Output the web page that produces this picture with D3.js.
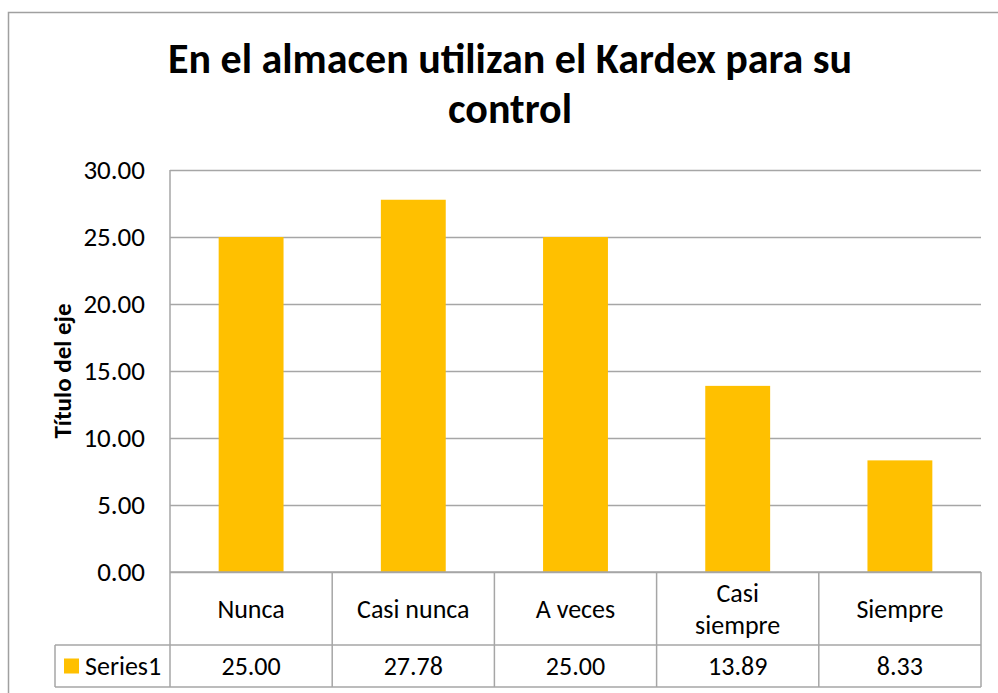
<!DOCTYPE html>
<html lang="es">
<head>
<meta charset="utf-8">
<title>En el almacen utilizan el Kardex para su control</title>
<script src="https://cdn.jsdelivr.net/npm/d3@7"></script>
<style>
  body { margin: 0; background: #fff; }
  svg text { font-family: Carlito, Calibri, Lato, sans-serif; fill: #000; }
  .title { font-size: 42px; font-weight: bold; }
  .ytitle { font-size: 25px; font-weight: bold; }
  .tick text { font-size: 27px; }
  .cell { font-size: 26px; }
  .grid line { stroke: #a6a6a6; stroke-width: 1.5; }
  .grid path { display: none; }
  .tbl { stroke: #a6a6a6; stroke-width: 1.5; }
</style>
</head>
<body>
<div id="chart"></div>
<script>
// data
var titleLines = ["En el almacen utilizan el Kardex para su", "control"];
var yTitle = "Título del eje";
var categories = ["Nunca", "Casi nunca", "A veces", "Casi siempre", "Siempre"];
var categoryLines = [["Nunca"], ["Casi nunca"], ["A veces"], ["Casi", "siempre"], ["Siempre"]];
var seriesName = "Series1";
var values = [25.00, 27.78, 25.00, 13.89, 8.33];
var yTicks = [0, 5, 10, 15, 20, 25, 30];

var W = 998, H = 693;
var plot = {left: 170, right: 981, top: 170, bottom: 572};
var headerBottom = 645, tableBottom = 687, legendLeft = 55;

var svg = d3.select("#chart").append("svg")
    .attr("width", W).attr("height", H);

// outer chart frame
svg.append("rect")
    .attr("x", 8.5).attr("y", 12.5)
    .attr("width", 1000).attr("height", 700)
    .attr("fill", "#fff").attr("stroke", "#a0a0a0").attr("stroke-width", 1.5);

// title
svg.append("text").attr("class", "title")
    .attr("text-anchor", "middle")
    .selectAll("tspan").data(titleLines).enter().append("tspan")
    .attr("x", 510)
    .attr("y", function(d, i) { return 73 + i * 50; })
    .text(function(d) { return d; });

var x = d3.scaleBand().domain(categories).range([plot.left, plot.right]);
var y = d3.scaleLinear().domain([0, 30]).range([plot.bottom, plot.top]);

// gridlines
svg.append("g").attr("class", "grid")
    .attr("transform", "translate(" + plot.left + ",0)")
    .call(d3.axisLeft(y).tickValues(yTicks).tickSize(-(plot.right - plot.left)).tickFormat(""));

// y labels
var yAxis = svg.append("g")
    .attr("transform", "translate(" + plot.left + ",0)")
    .call(d3.axisLeft(y).tickValues(yTicks).tickSize(0).tickPadding(25).tickFormat(d3.format(".2f")));
yAxis.select(".domain").remove();
yAxis.attr("font-family", null).attr("font-size", null);

// y title
svg.append("text").attr("class", "ytitle")
    .attr("text-anchor", "middle")
    .attr("dominant-baseline", "central")
    .attr("transform", "translate(62," + (plot.top + plot.bottom) / 2 + ") rotate(-90)")
    .text(yTitle);

// bars (gap width 150%)
var bw = x.bandwidth() / 2.5;
svg.selectAll(".bar").data(values).enter().append("rect")
    .attr("class", "bar")
    .attr("x", function(d, i) { return x(categories[i]) + (x.bandwidth() - bw) / 2; })
    .attr("y", function(d) { return y(d); })
    .attr("width", bw)
    .attr("height", function(d) { return y(0) - y(d); })
    .attr("fill", "#FFC000");

// data table lines
var t = svg.append("g").attr("class", "tbl");
t.append("line").attr("x1", plot.left).attr("x2", plot.left).attr("y1", plot.top).attr("y2", tableBottom);
t.append("line").attr("x1", plot.left).attr("x2", plot.right).attr("y1", plot.bottom).attr("y2", plot.bottom);
t.append("line").attr("x1", legendLeft).attr("x2", plot.right).attr("y1", headerBottom).attr("y2", headerBottom);
t.append("line").attr("x1", legendLeft).attr("x2", plot.right).attr("y1", tableBottom).attr("y2", tableBottom);
t.append("line").attr("x1", legendLeft).attr("x2", legendLeft).attr("y1", headerBottom).attr("y2", tableBottom);
t.selectAll(".sep").data(categories).enter().append("line")
    .attr("x1", function(d) { return x(d) + x.bandwidth(); })
    .attr("x2", function(d) { return x(d) + x.bandwidth(); })
    .attr("y1", plot.bottom).attr("y2", tableBottom);

// category labels
var lineH = 32;
svg.selectAll(".cat").data(categoryLines).enter().append("text")
    .attr("class", "cell")
    .attr("text-anchor", "middle")
    .attr("dominant-baseline", "central")
    .each(function(lines, i) {
        var cx = x(categories[i]) + x.bandwidth() / 2;
        var cy = (plot.bottom + headerBottom) / 2 - (lines.length - 1) * lineH / 2;
        d3.select(this).selectAll("tspan").data(lines).enter().append("tspan")
            .attr("x", cx)
            .attr("y", function(d, j) { return cy + j * lineH; })
            .text(function(d) { return d; });
    });

// values row
var rowMid = (headerBottom + tableBottom) / 2;
svg.selectAll(".val").data(values).enter().append("text")
    .attr("class", "cell")
    .attr("text-anchor", "middle")
    .attr("dominant-baseline", "central")
    .attr("x", function(d, i) { return x(categories[i]) + x.bandwidth() / 2; })
    .attr("y", rowMid)
    .text(function(d) { return d3.format(".2f")(d); });

// legend key
svg.append("rect")
    .attr("x", 64).attr("y", rowMid - 7.5)
    .attr("width", 15).attr("height", 15)
    .attr("fill", "#FFC000");
svg.append("text").attr("class", "cell")
    .attr("x", 85).attr("y", rowMid)
    .attr("dominant-baseline", "central")
    .text(seriesName);
</script>
</body>
</html>
